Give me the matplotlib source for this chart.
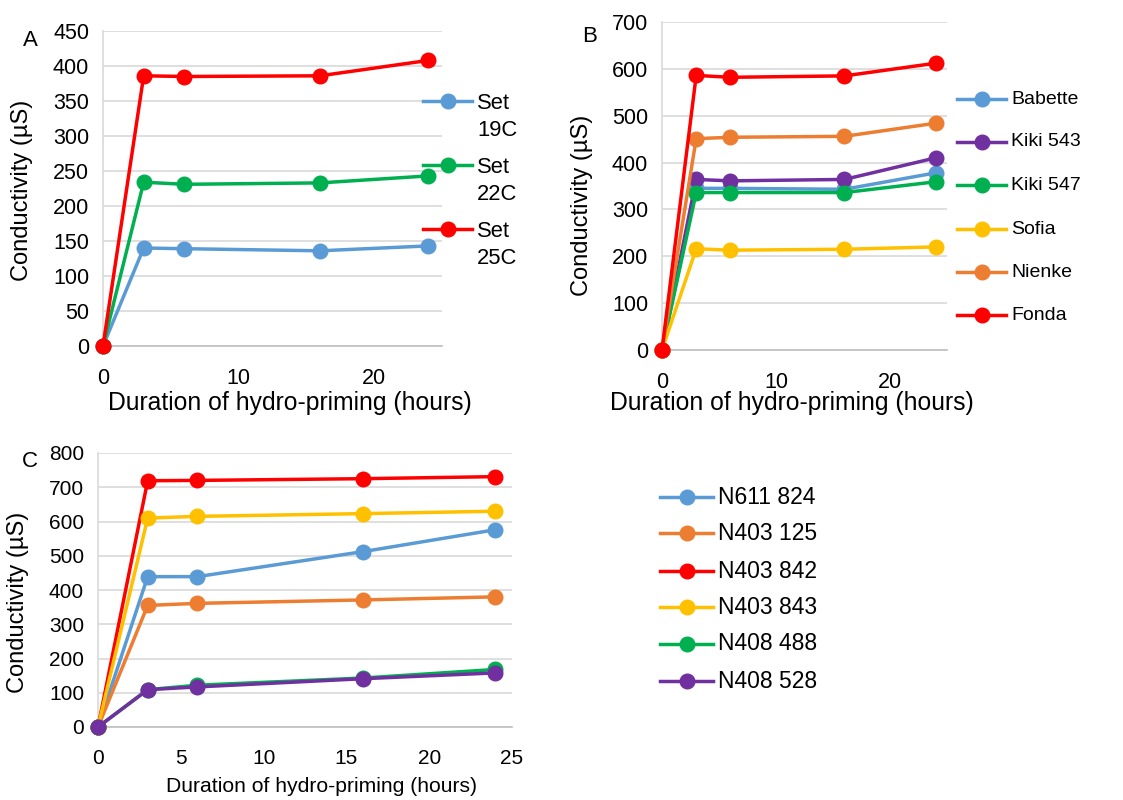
import matplotlib.pyplot as plt
from matplotlib.lines import Line2D

plt.rcParams['font.family'] = ['Liberation Sans', 'DejaVu Sans']

# Tiempos de hidro-priming (horas)
hours = [0, 3, 6, 16, 24]

# Panel A
a_names = ['Set\n19C', 'Set\n22C', 'Set\n25C']
a_colors = ['#5B9BD5', '#00B050', '#FF0000']
set_19c = [0, 140, 139, 136, 143]
set_22c = [0, 234, 231, 233, 243]
set_25c = [0, 386, 385, 386, 408]

# Panel B
b_names = ['Babette', 'Kiki 543', 'Kiki 547', 'Sofia', 'Nienke', 'Fonda']
b_colors = ['#5B9BD5', '#7030A0', '#00B050', '#FFC000', '#ED7D31', '#FF0000']
babette = [0, 345, 345, 343, 378]
kiki_543 = [0, 364, 361, 364, 410]
kiki_547 = [0, 336, 336, 336, 359]
sofia = [0, 216, 213, 215, 220]
nienke = [0, 451, 454, 456, 484]
fonda = [0, 586, 582, 585, 612]

# Panel C
c_names = ['N611 824', 'N403 125', 'N403 842', 'N403 843', 'N408 488', 'N408 528']
c_colors = ['#5B9BD5', '#ED7D31', '#FF0000', '#FFC000', '#00B050', '#7030A0']
n611_824 = [0, 439, 439, 512, 576]
n403_125 = [0, 355, 361, 371, 380]
n403_842 = [0, 719, 720, 725, 731]
n403_843 = [0, 610, 615, 623, 630]
n408_488 = [0, 109, 122, 143, 168]
n408_528 = [0, 109, 117, 141, 158]

W, H = 1123, 800
fig = plt.figure(figsize=(W / 100, H / 100), dpi=100)


def px(x, y):
    return x / W, 1 - y / H


def panel(left, top, right, bottom):
    return fig.add_axes([left / W, 1 - bottom / H, (right - left) / W, (bottom - top) / H])


def style(ax, ymax, ystep, xticks, tsize):
    ax.set_xlim(0, 25)
    ax.set_ylim(0, ymax)
    ax.set_yticks(range(0, ymax + 1, ystep))
    ax.set_xticks(xticks)
    ax.grid(axis='y', color='#D9D9D9', linewidth=1.2)
    ax.set_axisbelow(True)
    for s in ['top', 'right']:
        ax.spines[s].set_visible(False)
    ax.spines['left'].set_color('#D9D9D9')
    ax.spines['bottom'].set_color('#BFBFBF')
    ax.spines['left'].set_linewidth(1.2)
    ax.spines['bottom'].set_linewidth(1.2)
    ax.tick_params(length=0, labelsize=tsize, pad=10)
    ax.tick_params(axis='x', pad=16)


def draw(ax, series, colors):
    for ys, c in zip(series, colors):
        ax.plot(hours, ys, color=c, linewidth=2.5, marker='o', markersize=10.5,
                clip_on=False, zorder=3)


def legend(names, colors, x0, ys, size, x1):
    for name, c, y in zip(names, colors, ys):
        fx0, fy = px(x0, y)
        fx1, _ = px(x1, y)
        fig.add_artist(Line2D([fx0, fx1], [fy, fy], color=c, linewidth=2.5))
        fig.add_artist(Line2D([(fx0 + fx1) / 2], [fy], color=c, marker='o', markersize=10.5))
        if '\n' in name:
            tx, ty = px(x1 + 5, y - 8)
            fig.text(tx, ty, name, fontsize=size, va='top', linespacing=1.4)
        else:
            tx, ty = px(x1 + 5, y)
            fig.text(tx, ty, name, fontsize=size, va='center')


# A
axA = panel(103, 31, 442, 346)
draw(axA, [set_19c, set_22c, set_25c], a_colors)
style(axA, 450, 50, [0, 10, 20], 15.5)
legend(a_names, a_colors, 423, [101, 165, 229], 15.8, 472)

# B
axB = panel(662, 22, 947, 350)
draw(axB, [babette, kiki_543, kiki_547, sofia, nienke, fonda], b_colors)
style(axB, 700, 100, [0, 10, 20], 15.5)
legend(b_names, b_colors, 957, [99, 142, 185, 229, 272, 315], 14, 1006)

# C
axC = panel(98, 453, 512, 727)
draw(axC, [n611_824, n403_125, n403_842, n403_843, n408_488, n408_528], c_colors)
style(axC, 800, 100, [0, 5, 10, 15, 20, 25], 15)
legend(c_names, c_colors, 660, [497, 533, 571, 607, 644, 681], 16.5, 713)

# Etiquetas de ejes y letras de panel
ylab = 'Conductivity (µS)'
xlab = 'Duration of hydro-priming (hours)'
for (x, y) in [(22, 190), (582, 205), (18, 602)]:
    fig.text(*px(x, y), ylab, rotation=90, fontsize=17, ha='center', va='center')
for (x, y, fs) in [(290, 403, 17.8), (792, 403, 17.8), (322, 787, 15.2)]:
    fig.text(*px(x, y), xlab, fontsize=fs, ha='center', va='center')
for (x, y, t) in [(30, 40, 'A'), (590, 37, 'B'), (30, 461, 'C')]:
    fig.text(*px(x, y), t, fontsize=16, ha='center', va='center')

fig.savefig('out.png', dpi=100)
